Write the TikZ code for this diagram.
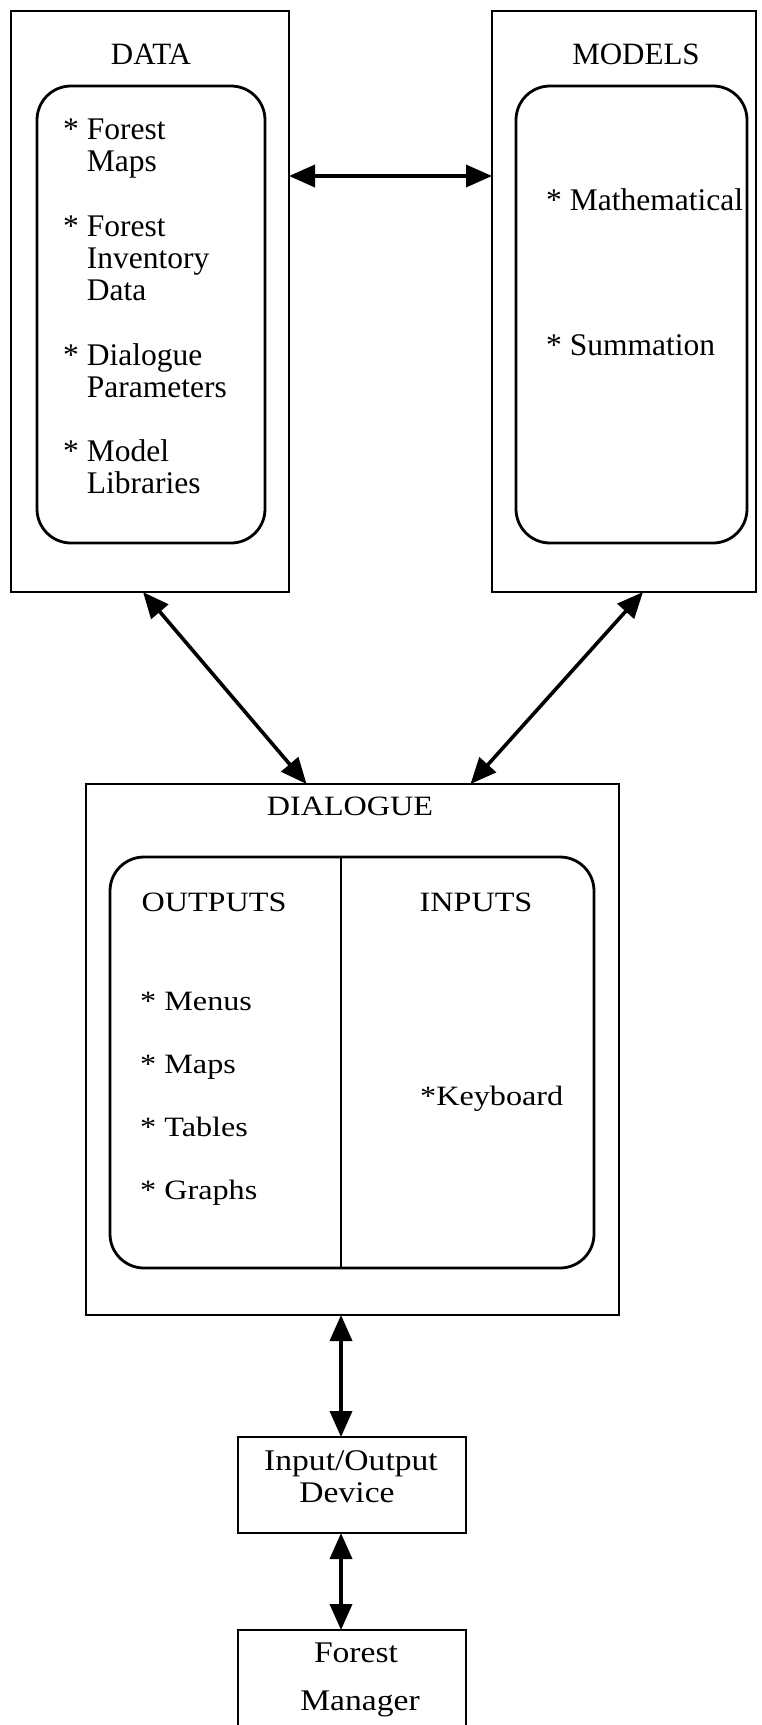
\documentclass[tikz,border=0pt]{standalone}
\usepackage{fontspec}
\setmainfont{Liberation Serif}
\newfontfamily\widefont[FakeStretch=1.15]{Liberation Serif}
\newfontfamily\devfont[FakeStretch=1.12]{Liberation Serif}
\usetikzlibrary{arrows.meta}

\begin{document}
\begin{tikzpicture}[x=1pt,y=-1pt,
  frame/.style={draw, line width=2.8pt, inner sep=0pt, outer sep=0pt},
  roundbox/.style={frame, rounded corners=34pt},
  conn/.style={line width=3.6pt, {Triangle[length=26pt,width=22pt]}-{Triangle[length=26pt,width=22pt]}},
  toptitle/.style={font=\fontsize{31}{32}\selectfont, anchor=base, inner sep=0pt},
  topitem/.style={font=\fontsize{31.5}{32}\selectfont, anchor=base west, inner sep=0pt},
  dlgtext/.style={font=\widefont\fontsize{28}{30}\selectfont, anchor=base, inner sep=0pt},
  dlgitem/.style={font=\widefont\fontsize{28}{30}\selectfont, anchor=base west, inner sep=0pt},
  devtext/.style={font=\devfont\fontsize{30}{32}\selectfont, anchor=base, inner sep=0pt}]

\clip (0,0) rectangle (762,1725);
\fill[white] (0,0) rectangle (762,1725);

% ---- DATA block ----
\node[frame, minimum width=278pt, minimum height=581pt] (data) at (150,301.5) {};
\node[roundbox, minimum width=228pt, minimum height=457pt] (datain) at (151,314.5) {};
\node[toptitle] (datatitle) at (151,64) {DATA};
\node[topitem] (d1) at (63,139) {\begin{tabular}[t]{@{}l@{ }l@{}}*&Forest\\&Maps\end{tabular}};
\node[topitem] (d2) at (63,236) {\begin{tabular}[t]{@{}l@{ }l@{}}*&Forest\\&Inventory\\&Data\end{tabular}};
\node[topitem] (d3) at (63,365) {\begin{tabular}[t]{@{}l@{ }l@{}}*&Dialogue\\&Parameters\end{tabular}};
\node[topitem] (d4) at (63,461) {\begin{tabular}[t]{@{}l@{ }l@{}}*&Model\\&Libraries\end{tabular}};

% ---- MODELS block ----
\node[frame, minimum width=264pt, minimum height=581pt] (models) at (624,301.5) {};
\node[roundbox, minimum width=231pt, minimum height=457pt] (modelsin) at (631.5,314.5) {};
\node[toptitle] (modelstitle) at (636,64) {MODELS};
\node[topitem] (m1) at (546,210) {* Mathematical};
\node[topitem] (m2) at (546,355) {* Summation};

% ---- DIALOGUE block ----
\node[frame, minimum width=533pt, minimum height=531pt] (dlg) at (352.5,1049.5) {};
\node[roundbox, minimum width=484pt, minimum height=411pt] (dlgin) at (352,1062.5) {};
\coordinate (divx) at (341,0);
\draw[line width=2.8pt] (dlgin.north -| divx) -- (dlgin.south -| divx);
\node[dlgtext] (dlgtitle) at (350,815) {DIALOGUE};
\node[dlgtext] (outtitle) at (214,911) {OUTPUTS};
\node[dlgtext] (intitle) at (476,911) {INPUTS};
\node[dlgitem] (o1) at (140,1010) {* Menus};
\node[dlgitem] (o2) at (140,1073) {* Maps};
\node[dlgitem] (o3) at (140,1136) {* Tables};
\node[dlgitem] (o4) at (140,1199) {* Graphs};
\node[dlgitem] (i1) at (420,1105) {*Keyboard};

% ---- device and user ----
\node[frame, minimum width=228pt, minimum height=96pt] (io) at (352,1485) {};
\node[devtext] (iot1) at (351,1470) {Input/Output};
\node[devtext] (iot2) at (347,1502) {Device};
\node[frame, minimum width=228pt, minimum height=140pt] (mgr) at (352,1700) {};
\node[devtext] (mgrt1) at (356,1662) {Forest};
\node[devtext] (mgrt2) at (360,1710) {Manager};

% ---- connectors ----
\coordinate (hy) at (0,176);
\draw[conn] (data.east |- hy) -- (models.west |- hy);
\draw[conn] ([xshift=-7pt]data.south) -- ([xshift=-46pt]dlg.north);
\draw[conn] ([xshift=19pt]models.south) -- ([xshift=118pt]dlg.north);
\draw[conn] (dlg.south -| divx) -- (io.north -| divx);
\draw[conn] (io.south -| divx) -- (mgr.north -| divx);
\end{tikzpicture}
\end{document}
